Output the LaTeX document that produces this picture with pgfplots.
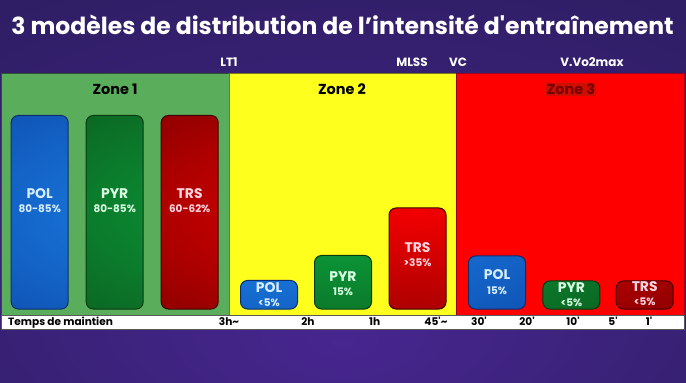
\documentclass[border=0pt]{standalone}
\usepackage{pgfplots}
\pgfplotsset{compat=1.18}
\usepackage{pgfplotstable}
\usepackage{fontspec}
\setmainfont{Poppins}
\definecolor{bgin}{HTML}{47268F}
\definecolor{bgout}{HTML}{241A52}
\definecolor{zgreen}{HTML}{5AAD5A}
\definecolor{zyellow}{HTML}{FFFF1E}
\definecolor{zred}{HTML}{FF0000}
\definecolor{polin}{HTML}{1E8AF2}
\definecolor{polout}{HTML}{0A3F9E}
\definecolor{polbd}{HTML}{0B2F6E}
\definecolor{pyrin}{HTML}{0CA63F}
\definecolor{pyrout}{HTML}{0A4F18}
\definecolor{pyrbd}{HTML}{0A3A12}
\definecolor{trsin}{HTML}{F20000}
\definecolor{trsout}{HTML}{6A0000}
\definecolor{trsbd}{HTML}{400000}
\definecolor{pollab}{HTML}{D6EEFF}
\definecolor{pyrlab}{HTML}{D9FFE3}
\definecolor{trslab}{HTML}{FFD6E0}
\pgfdeclareradialshading{polshade}{\pgfpoint{0bp}{0bp}}{color(0bp)=(polin); color(50bp)=(polout); color(72bp)=(polout)}
\pgfdeclareradialshading{pyrshade}{\pgfpoint{0bp}{0bp}}{color(0bp)=(pyrin); color(50bp)=(pyrout); color(72bp)=(pyrout)}
\pgfdeclareradialshading{trsshade}{\pgfpoint{0bp}{0bp}}{color(0bp)=(trsin); color(50bp)=(trsout); color(72bp)=(trsout)}
\pgfdeclareradialshading{bgshade}{\pgfpoint{0bp}{-20bp}}{color(0bp)=(bgin); color(60bp)=(bgout); color(80bp)=(bgout)}

\pgfplotstableread[col sep=comma]{
x,h,ny,py,pct
39.7,193.5,115,100,80-85\%
269,28.5,21,6,<5\%
497,53,34,18.3,15\%
}\pol
\pgfplotstableread[col sep=comma]{
x,h,ny,py,pct
114.7,193.5,115,100,80-85\%
343,53.5,32.3,17,15\%
571.4,28,21,6.3,<5\%
}\pyr
\pgfplotstableread[col sep=comma]{
x,h,ny,py,pct
189.7,193.5,115,100,60-62\%
417.5,101,61,46,>35\%
644.7,28,22,7.3,<5\%
}\trs

\begin{document}
\begin{tikzpicture}
\begin{axis}[
  set layers,
  scale only axis, width=686bp, height=236bp,
  xmin=0, xmax=686, ymin=0, ymax=236,
  clip=false,
  axis x line*=bottom, axis y line=none,
  x axis line style={draw=none},
  xtick style={draw=none},
  ytick=\empty,
  xtick={229,308,374.7,436,479,527,573,613,649},
  xticklabels={3h\textasciitilde,2h,1h,45\textquotesingle\textasciitilde,30\textquotesingle,20\textquotesingle,10\textquotesingle,5\textquotesingle,1\textquotesingle},
  x tick label style={anchor=base, yshift=-16.5bp, inner sep=0pt, font=\bfseries\fontsize{10.6}{12}\selectfont, text=black},
]
% background and zones
\begin{pgfonlayer}{axis background}
\shade[shading=bgshade] (axis cs:0,-74) rectangle (axis cs:686,309);
\fill[zgreen, draw={rgb,255:red,50;green,80;blue,50}, line width=0.8bp] (axis cs:1.5,-6) rectangle (axis cs:229,236);
\fill[zyellow, draw={rgb,255:red,120;green,120;blue,30}, line width=0.8bp] (axis cs:229,-6) rectangle (axis cs:456,236);
\fill[zred, draw={rgb,255:red,150;green,0;blue,40}, line width=0.8bp] (axis cs:456,-6) rectangle (axis cs:684,236);
\fill[white, draw={rgb,255:red,90;green,90;blue,90}, line width=0.8bp] (axis cs:1.5,-20) rectangle (axis cs:684,-6);
\end{pgfonlayer}
\node[anchor=base west, inner sep=0pt, font=\bfseries\fontsize{10.6}{12}\selectfont] at (axis cs:8,-16.5) {Temps de maintien};
% title and thresholds
\node[anchor=base, inner sep=0pt, text=white, font=\bfseries\fontsize{23.6}{28}\selectfont] at (axis cs:342.5,275) {3 modèles de distribution de l’intensité d\textquotesingle entraînement};
\node[anchor=base, inner sep=0pt, text=white, font=\bfseries\fontsize{12}{14}\selectfont] at (axis cs:229,243) {LT1};
\node[anchor=base, inner sep=0pt, text=white, font=\bfseries\fontsize{12}{14}\selectfont] at (axis cs:412,243) {MLSS};
\node[anchor=base, inner sep=0pt, text=white, font=\bfseries\fontsize{12}{14}\selectfont] at (axis cs:458,243) {VC};
\node[anchor=base, inner sep=0pt, text=white, font=\bfseries\fontsize{12}{14}\selectfont] at (axis cs:592,243) {V.Vo2max};
\node[anchor=base, inner sep=0pt, font=\bfseries\fontsize{14.5}{16}\selectfont] at (axis cs:115,214.5) {Zone 1};
\node[anchor=base, inner sep=0pt, font=\bfseries\fontsize{14.5}{16}\selectfont] at (axis cs:342,214.5) {Zone 2};
\node[anchor=base, inner sep=1bp, fill={rgb,255:red,205;green,15;blue,0}, text={rgb,255:red,120;green,0;blue,0}, font=\bfseries\fontsize{14.5}{16}\selectfont] at (axis cs:571,214.5) {Zone 3};
% bars
\addplot[ybar, bar width=57, bar shift=0pt, draw=polbd, line width=1bp, rounded corners=7bp, shade, shading=polshade] table[x=x,y=h]{\pol};
\addplot[ybar, bar width=57, bar shift=0pt, draw=pyrbd, line width=1bp, rounded corners=7bp, shade, shading=pyrshade] table[x=x,y=h]{\pyr};
\addplot[ybar, bar width=57, bar shift=0pt, draw=trsbd, line width=1bp, rounded corners=7bp, shade, shading=trsshade] table[x=x,y=h]{\trs};
% labels
\addplot[draw=none, mark=none, nodes near coords={POL}, every node near coord/.append style={anchor=center, inner sep=0pt, text=pollab, font=\bfseries\fontsize{14}{16}\selectfont}] table[x=x,y=ny]{\pol};
\addplot[draw=none, mark=none, nodes near coords={PYR}, every node near coord/.append style={anchor=center, inner sep=0pt, text=pyrlab, font=\bfseries\fontsize{14}{16}\selectfont}] table[x=x,y=ny]{\pyr};
\addplot[draw=none, mark=none, nodes near coords={TRS}, every node near coord/.append style={anchor=center, inner sep=0pt, text=trslab, font=\bfseries\fontsize{14}{16}\selectfont}] table[x=x,y=ny]{\trs};
\addplot[draw=none, mark=none, point meta=explicit symbolic, nodes near coords, every node near coord/.append style={anchor=center, inner sep=0pt, text=pollab, font=\bfseries\fontsize{10.5}{12}\selectfont}] table[x=x,y=py,meta=pct]{\pol};
\addplot[draw=none, mark=none, point meta=explicit symbolic, nodes near coords, every node near coord/.append style={anchor=center, inner sep=0pt, text=pyrlab, font=\bfseries\fontsize{10.5}{12}\selectfont}] table[x=x,y=py,meta=pct]{\pyr};
\addplot[draw=none, mark=none, point meta=explicit symbolic, nodes near coords, every node near coord/.append style={anchor=center, inner sep=0pt, text=trslab, font=\bfseries\fontsize{10.5}{12}\selectfont}] table[x=x,y=py,meta=pct]{\trs};
\end{axis}
\end{tikzpicture}
\end{document}
